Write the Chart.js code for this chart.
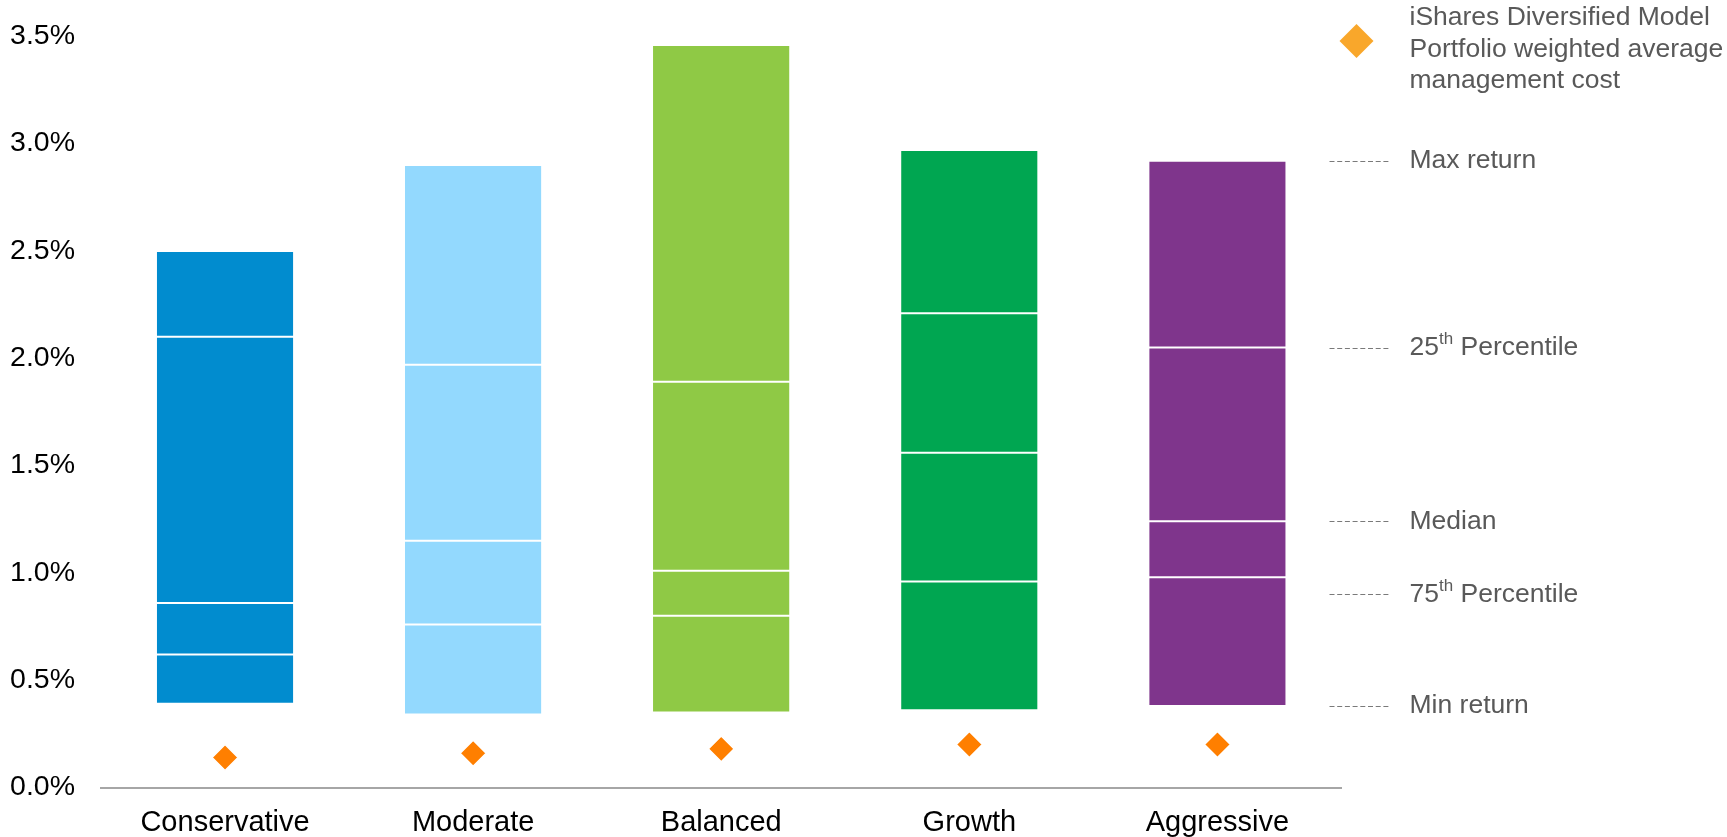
<!DOCTYPE html>
<html>
<head>
<meta charset="utf-8">
<title>Model portfolio returns vs cost</title>
<script src="https://cdn.jsdelivr.net/npm/chart.js@4.4.1/dist/chart.umd.min.js"></script>
<style>
  html, body { margin: 0; padding: 0; background: #ffffff; }
  #wrap { position: relative; width: 1727px; height: 837px; }
</style>
</head>
<body>
<div id="wrap"><canvas id="returnsChart"></canvas></div>
<script>
// categories
const portfolios = ['Conservative', 'Moderate', 'Balanced', 'Growth', 'Aggressive'];
const barColours = ['#018ccf', '#93d9fe', '#8fc945', '#00a651', '#7f358c'];

// return ranges (%)
const minReturn = [0.39, 0.34, 0.35, 0.36, 0.38];
const pct75     = [0.62, 0.76, 0.80, 0.96, 0.98];
const medianRet = [0.86, 1.15, 1.01, 1.56, 1.24];
const pct25     = [2.10, 1.97, 1.89, 2.21, 2.05];
const maxReturn = [2.50, 2.90, 3.46, 2.97, 2.92];

// weighted average management cost (%)
const mgmtCost = [0.14, 0.16, 0.18, 0.20, 0.20];

// y axis ticks
const yTicks = [0, 0.5, 1.0, 1.5, 2.0, 2.5, 3.0, 3.5];

// guide labels on the right, and the value each one points at
const guideLabels = [['Max return', ''], ['25', 'th', ' Percentile'], ['Median', ''], ['75', 'th', ' Percentile'], ['Min return', '']];
const guideValues = [2.92, 2.05, 1.24, 0.90, 0.38];

const legendLines = ['iShares Diversified Model', 'Portfolio weighted average', 'management cost'];

const FONT = '"Liberation Sans", Arial, Helvetica, sans-serif';

function segment(lowArr, highArr) {
    return {
        type: 'bar',
        data: lowArr.map((lo, i) => [lo, highArr[i]]),
        backgroundColor: barColours,
        borderColor: '#ffffff',
        borderWidth: { top: 1, bottom: 1, left: 0, right: 0 },
        borderSkipped: false,
        grouped: false,
        barPercentage: 0.55,
        categoryPercentage: 1,
        order: 2
    };
}

// draws the legend and the dashed guide labels at the right
const sidePanel = {
    id: 'sidePanel',
    afterDraw(chart) {
        const ctx = chart.ctx;
        const area = chart.chartArea;
        const y = chart.scales.y;
        const textX = area.right + 68;
        ctx.save();

        // legend marker
        const cx = area.right + 15, cy = 41, r = 17;
        ctx.fillStyle = '#f9a72b';
        ctx.beginPath();
        ctx.moveTo(cx - r, cy);
        ctx.lineTo(cx, cy - r);
        ctx.lineTo(cx + r, cy);
        ctx.lineTo(cx, cy + r);
        ctx.closePath();
        ctx.fill();

        ctx.fillStyle = '#595959';
        ctx.font = '26.5px ' + FONT;
        ctx.textBaseline = 'middle';
        ctx.textAlign = 'left';
        legendLines.forEach((line, i) => {
            ctx.fillText(line, textX, 17.5 + i * 31.7);
        });

        // guide rows
        guideLabels.forEach((parts, i) => {
            const py = y.getPixelForValue(guideValues[i]);
            ctx.strokeStyle = '#7a7a7a';
            ctx.lineWidth = 1;
            ctx.setLineDash([5, 2.7]);
            ctx.beginPath();
            ctx.moveTo(area.right - 12, Math.round(py) + 0.5);
            ctx.lineTo(area.right + 49, Math.round(py) + 0.5);
            ctx.stroke();
            ctx.setLineDash([]);

            let x = textX;
            ctx.font = '26.5px ' + FONT;
            ctx.fillText(parts[0], x, py);
            x += ctx.measureText(parts[0]).width;
            if (parts[1]) {
                ctx.font = '17px ' + FONT;
                ctx.fillText(parts[1], x, py - 8);
                x += ctx.measureText(parts[1]).width;
                ctx.font = '26.5px ' + FONT;
                ctx.fillText(parts[2], x, py);
            }
        });
        ctx.restore();
    }
};

const chart = new Chart(document.getElementById('returnsChart'), {
    data: {
        labels: portfolios,
        datasets: [
            segment(minReturn, pct75),
            segment(pct75, medianRet),
            segment(medianRet, pct25),
            segment(pct25, maxReturn),
            {
                type: 'line',
                label: 'iShares Diversified Model Portfolio weighted average management cost',
                data: mgmtCost,
                showLine: false,
                pointStyle: 'rectRot',
                pointRadius: 13,
                pointBackgroundColor: '#ff7f00',
                pointBorderColor: '#ffffff',
                pointBorderWidth: 1.5,
                order: 0
            }
        ]
    },
    options: {
        responsive: true,
        maintainAspectRatio: false,
        animation: false,
        layout: { padding: { top: 36.3, right: 385.5, left: 0, bottom: 0 } },
        plugins: {
            legend: { display: false },
            tooltip: { enabled: false }
        },
        scales: {
            x: {
                grid: { display: false, drawTicks: false },
                border: { display: true, color: '#a6a6a6', width: 2 },
                ticks: { color: '#000000', font: { family: FONT, size: 29 }, padding: 18 },
                afterFit(scale) { scale.height = 49.5; }
            },
            y: {
                min: 0,
                max: 3.5,
                grid: { display: false, drawTicks: false },
                border: { display: false },
                afterBuildTicks(scale) { scale.ticks = yTicks.map(v => ({ value: v })); },
                ticks: {
                    color: '#000000',
                    font: { family: FONT, size: 28.5 },
                    padding: 26,
                    callback: v => v.toFixed(1) + '%'
                },
                afterFit(scale) {
                    scale.width = 101;
                    scale.paddingTop = 0;
                    scale.paddingBottom = 0;
                }
            }
        }
    },
    plugins: [sidePanel]
});
</script>
</body>
</html>
